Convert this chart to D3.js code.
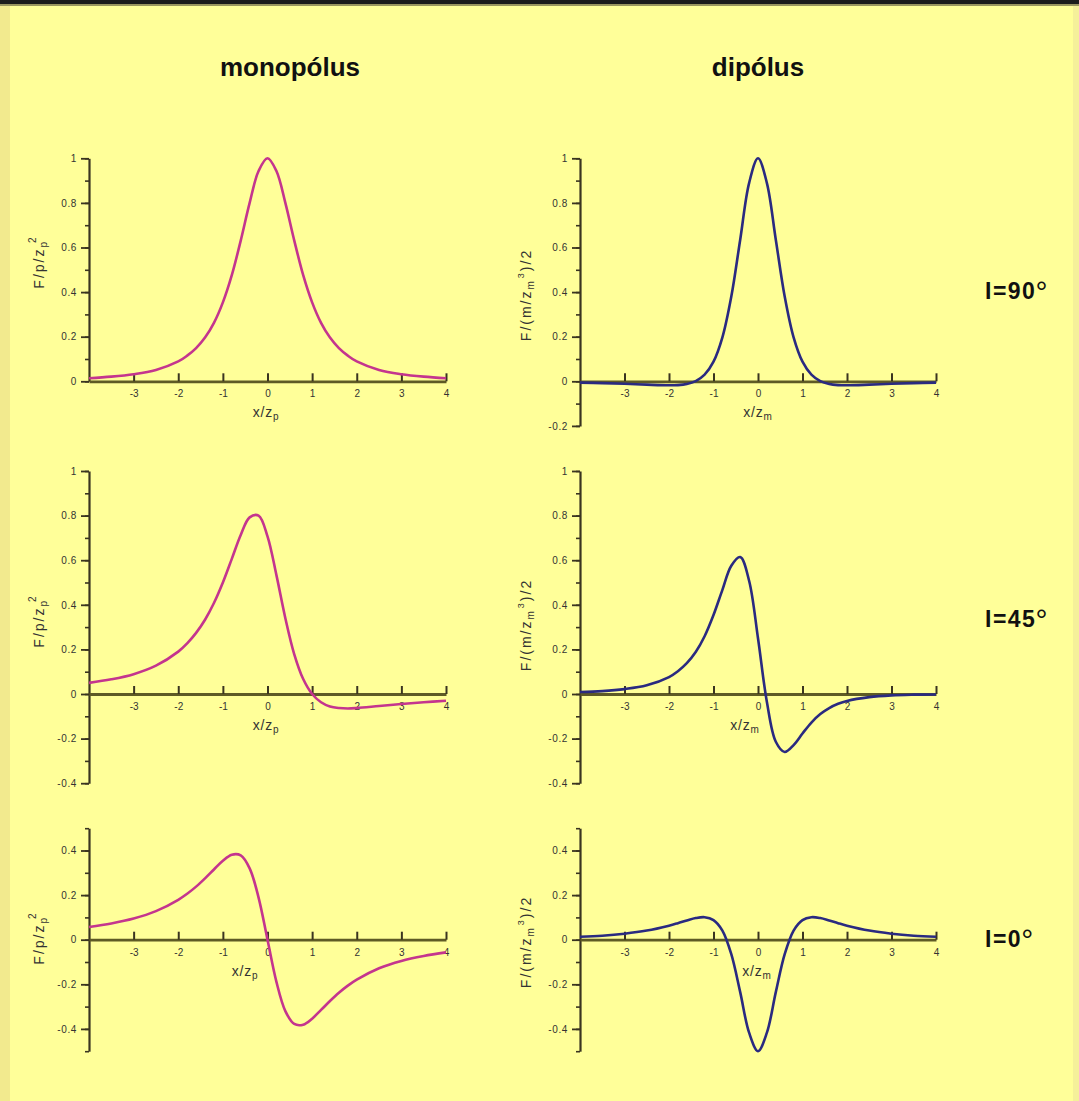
<!DOCTYPE html>
<html>
<head>
<meta charset="utf-8">
<script src="https://cdn.jsdelivr.net/npm/d3@7"></script>
<style>
html,body{margin:0;padding:0;background:#FFFF99;}
svg{display:block;}
text{font-family:"Liberation Sans",Arial,sans-serif;}
</style>
</head>
<body>
<svg id="chart" width="1079" height="1101"></svg>
<script>
// ---------- data ----------
const columnTitles = ["monopólus", "dipólus"];
const rowLabels = ["I=90", "I=45", "I=0"];
const xSamples = [-4,-3.5,-3,-2.5,-2,-1.8,-1.6,-1.4,-1.2,-1,-0.8,-0.6,-0.4,-0.2,0,0.2,0.4,0.6,0.8,1,1.2,1.4,1.6,1.8,2,2.5,3,3.5,4];
const xTickValues = [-3,-2,-1,0,1,2,3,4];

const monoI90 = [0.014,0.021,0.032,0.051,0.089,0.115,0.149,0.196,0.262,0.354,0.476,0.631,0.800,0.943,1.000,0.943,0.800,0.631,0.476,0.354,0.262,0.196,0.149,0.115,0.089,0.051,0.032,0.021,0.014];
const monoI45 = [0.050,0.066,0.089,0.127,0.190,0.227,0.274,0.333,0.408,0.500,0.606,0.713,0.792,0.800,0.707,0.533,0.340,0.178,0.067,0.000,-0.037,-0.056,-0.063,-0.065,-0.063,-0.054,-0.045,-0.037,-0.030];
const monoI0  = [0.057,0.073,0.095,0.128,0.179,0.206,0.238,0.275,0.315,0.354,0.381,0.378,0.320,0.189,0.000,-0.189,-0.320,-0.378,-0.381,-0.354,-0.315,-0.275,-0.238,-0.206,-0.179,-0.128,-0.095,-0.073,-0.057];
const dipI90  = [-0.006,-0.008,-0.011,-0.015,-0.018,-0.017,-0.012,0.001,0.030,0.088,0.197,0.380,0.635,0.889,1.000,0.889,0.635,0.380,0.197,0.088,0.030,0.001,-0.012,-0.017,-0.018,-0.015,-0.011,-0.008,-0.006];
const dipI45  = [0.009,0.013,0.022,0.039,0.076,0.102,0.138,0.188,0.259,0.354,0.467,0.575,0.614,0.508,0.250,-0.036,-0.214,-0.260,-0.229,-0.177,-0.128,-0.090,-0.063,-0.044,-0.031,-0.014,-0.006,-0.003,-0.002];
const dipI0   = [0.013,0.018,0.027,0.041,0.063,0.074,0.086,0.097,0.101,0.088,0.041,-0.065,-0.235,-0.417,-0.500,-0.417,-0.235,-0.065,0.041,0.088,0.101,0.097,0.086,0.074,0.063,0.041,0.027,0.018,0.013];

const yDomains = [[0,1],[-0.2,1],[-0.4,1],[-0.4,1],[-0.5,0.5],[-0.5,0.5]];
const yMajorTicks = [
  [0,0.2,0.4,0.6,0.8,1],
  [-0.2,0,0.2,0.4,0.6,0.8,1],
  [-0.4,-0.2,0,0.2,0.4,0.6,0.8,1],
  [-0.4,-0.2,0,0.2,0.4,0.6,0.8,1],
  [-0.4,-0.2,0,0.2,0.4],
  [-0.4,-0.2,0,0.2,0.4]
];
const seriesList = [monoI90, dipI90, monoI45, dipI45, monoI0, dipI0];

// ---------- layout ----------
const svg = d3.select("#chart");
svg.append("rect").attr("x",0).attr("y",0).attr("width",1079).attr("height",1101).attr("fill","#FFFF99");
svg.append("rect").attr("x",0).attr("y",0).attr("width",10).attr("height",1101).attr("fill","#F2EA8E");
svg.append("rect").attr("x",1073).attr("y",0).attr("width",6).attr("height",1101).attr("fill","#F5F09A");
svg.append("rect").attr("x",0).attr("y",0).attr("width",1079).attr("height",4).attr("fill","#1c1c1c");
svg.append("rect").attr("x",0).attr("y",4).attr("width",1079).attr("height",2).attr("fill","#9a9660");

const colX = [[89,446],[580,936]];
const rowZero = [381.3, 694, 939.7];
const unitPx = 223;
const axisColor = "#3a3420";
const xAxisColor = "#5e5a25";
const lineColors = ["#C4358E", "#2A2A80"];
const labelFont = "'Liberation Sans',Arial,sans-serif";

const yLabelCenters = [[262,295],[621,625],[938,942]];
const xLabelCenters = [[266,758],[266,745],[245,757]];

columnTitles.forEach((t,i)=>{
  svg.append("text").attr("x", i===0?290:758).attr("y",76)
    .attr("text-anchor","middle").attr("font-size",26).attr("font-weight","bold")
    .attr("fill","#111").text(t);
});

const rowLabelY = [299, 627, 947];
rowLabels.forEach((t,i)=>{
  const tx = svg.append("text").attr("x",985).attr("y",rowLabelY[i])
    .attr("font-size",23).attr("font-weight","bold").attr("fill","#111");
  tx.append("tspan").attr("letter-spacing",1.5).text(t);
  tx.append("tspan").attr("font-size",30).attr("font-weight","normal").attr("dx",-1).attr("dy",3).text("°");
});

const fmt = v => String(+v.toFixed(1));

seriesList.forEach((vals, idx)=>{
  const row = Math.floor(idx/2), col = idx%2;
  const dom = yDomains[idx];
  const z = rowZero[row];
  const x = d3.scaleLinear().domain([-4,4]).range(colX[col]);
  const y = d3.scaleLinear().domain(dom).range([z - dom[0]*unitPx, z - dom[1]*unitPx]);
  const g = svg.append("g");

  // minor y ticks
  const minor = d3.range(Math.round(dom[0]*10), Math.round(dom[1]*10)+1).map(k=>k/10);
  const yMinor = g.append("g").attr("transform",`translate(${colX[col][0]},0)`)
    .call(d3.axisLeft(y).tickValues(minor).tickSize(4).tickFormat(""));
  yMinor.select(".domain").remove();
  yMinor.selectAll("line").attr("stroke",axisColor).attr("stroke-width",1.6);

  // major y axis
  const yAx = g.append("g").attr("transform",`translate(${colX[col][0]},0)`)
    .call(d3.axisLeft(y).tickValues(yMajorTicks[idx]).tickSize(8).tickSizeOuter(0).tickPadding(4).tickFormat(fmt));
  yAx.select(".domain").attr("stroke",axisColor).attr("stroke-width",2.2);
  yAx.selectAll("line").attr("stroke",axisColor).attr("stroke-width",1.8);
  yAx.selectAll("text").attr("font-size",10).attr("fill","#333").attr("letter-spacing",0.6).style("font-family",labelFont);

  // x axis at zero
  const xAx = g.append("g").attr("transform",`translate(0,${y(0)})`)
    .call(d3.axisBottom(x).tickValues(xTickValues).tickSizeInner(-8).tickSizeOuter(0).tickPadding(9).tickFormat(fmt));
  xAx.select(".domain").attr("stroke",xAxisColor).attr("stroke-width",2.8);
  xAx.selectAll("line").attr("stroke",axisColor).attr("stroke-width",2);
  xAx.selectAll("text").attr("font-size",10).attr("fill","#333").style("font-family",labelFont);

  // curve
  const line = d3.line().x((d,i)=>x(xSamples[i])).y(d=>y(d)).curve(d3.curveCatmullRom.alpha(0.5));
  g.append("path").datum(vals).attr("d",line).attr("fill","none")
    .attr("stroke",lineColors[col]).attr("stroke-width",2.6).attr("stroke-linejoin","round");

  // x label
  const xl = g.append("text").attr("x",xLabelCenters[row][col]).attr("y",y(0)+36)
    .attr("text-anchor","middle").attr("font-size",14).attr("fill","#333").attr("letter-spacing",0.8);
  xl.append("tspan").text("x/z");
  xl.append("tspan").attr("font-size",10).attr("dy",3).text(col===0?"p":"m");

  // y label
  const cy = yLabelCenters[row][col];
  const lx = col===0 ? 44 : 531;
  const yl = g.append("text").attr("transform",`translate(${lx},${cy}) rotate(-90)`)
    .attr("text-anchor","middle").attr("font-size",14).attr("fill","#333").attr("letter-spacing",2);
  if(col===0){
    yl.append("tspan").text("F/p/z");
    yl.append("tspan").attr("font-size",10).attr("dy",3).text("p");
    yl.append("tspan").attr("font-size",10).attr("dx",-3).attr("dy",-11).text("2");
  } else {
    yl.append("tspan").text("F/(m/z");
    yl.append("tspan").attr("font-size",10).attr("dy",3).text("m");
    yl.append("tspan").attr("font-size",9).attr("dx",1).attr("dy",-10).text("3");
    yl.append("tspan").attr("dy",7).text(")/2");
  }
});
</script>
</body>
</html>
